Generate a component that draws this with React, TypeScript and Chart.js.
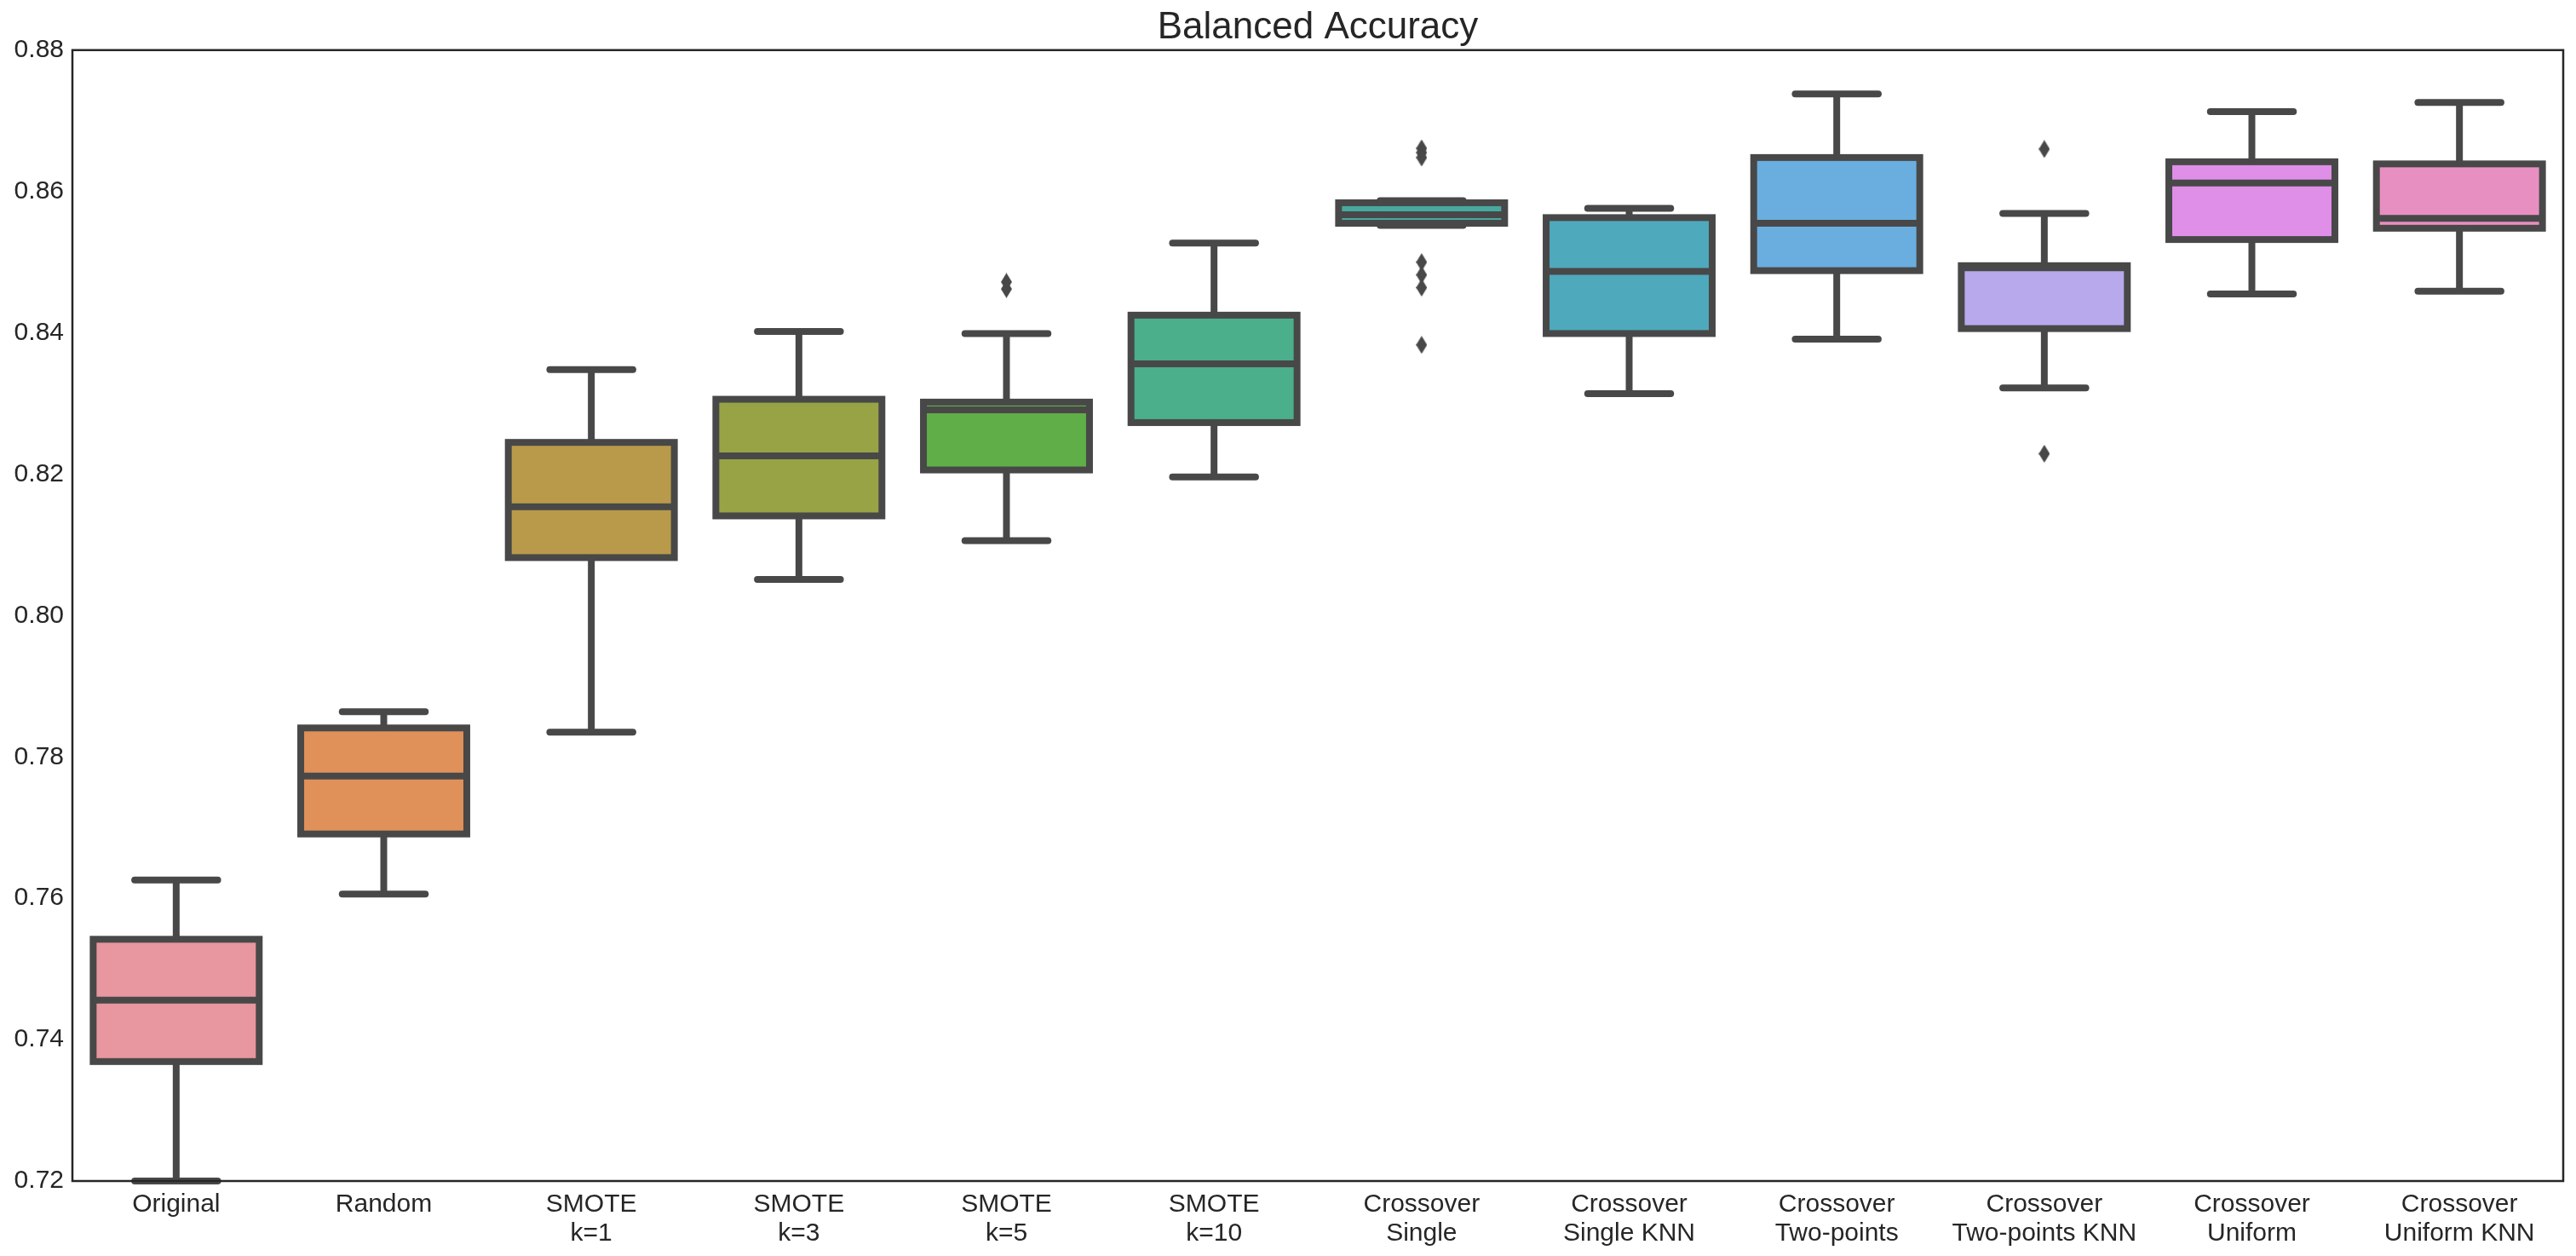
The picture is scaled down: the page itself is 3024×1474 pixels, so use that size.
import React, { useEffect, useRef } from 'react';
import { Chart, registerables } from 'chart.js';

Chart.register(...registerables);

// ---- data ----
const categories: (string | string[])[] = [
  'Original',
  'Random',
  ['SMOTE', 'k=1'],
  ['SMOTE', 'k=3'],
  ['SMOTE', 'k=5'],
  ['SMOTE', 'k=10'],
  ['Crossover', 'Single'],
  ['Crossover', 'Single KNN'],
  ['Crossover', 'Two-points'],
  ['Crossover', 'Two-points KNN'],
  ['Crossover', 'Uniform'],
  ['Crossover', 'Uniform KNN'],
];

const whiskerLow = [0.72, 0.7606, 0.7835, 0.8051, 0.8106, 0.8196, 0.8552, 0.8314, 0.8391, 0.8322, 0.8455, 0.8459];
const q1 = [0.7369, 0.7691, 0.8082, 0.8141, 0.8206, 0.8273, 0.8555, 0.8399, 0.8488, 0.8406, 0.8532, 0.8548];
const median = [0.7456, 0.7773, 0.8154, 0.8226, 0.8291, 0.8356, 0.8567, 0.8487, 0.8555, 0.8492, 0.8612, 0.8562];
const q3 = [0.7542, 0.7841, 0.8245, 0.8306, 0.8302, 0.8425, 0.8584, 0.8563, 0.8648, 0.8495, 0.8642, 0.8639];
const whiskerHigh = [0.7626, 0.7864, 0.8348, 0.8402, 0.8399, 0.8527, 0.8587, 0.8576, 0.8738, 0.8569, 0.8713, 0.8726];
const outliers: number[][] = [
  [],
  [],
  [],
  [],
  [0.8472, 0.8462],
  [],
  [0.8661, 0.8655, 0.8648, 0.85, 0.8482, 0.8464, 0.8383],
  [],
  [],
  [0.866, 0.8229],
  [],
  [],
];

const yTicks = [0.72, 0.74, 0.76, 0.78, 0.8, 0.82, 0.84, 0.86, 0.88];

const boxColors = [
  '#e8969f',
  '#e0915a',
  '#b89a4a',
  '#98a346',
  '#60ae47',
  '#4aaf8a',
  '#48a9a0',
  '#4fa9bc',
  '#6aaee0',
  '#b7a9eb',
  '#df8fe8',
  '#e88fc2',
];

const LINE = '#484848';
const TEXT = '#262626';
const FONT = "'Liberation Sans', Arial, Helvetica, sans-serif";

function makeDiamond(): HTMLCanvasElement {
  const c = document.createElement('canvas');
  const w = 13;
  const h = 21;
  c.width = w;
  c.height = h;
  const g = c.getContext('2d')!;
  g.fillStyle = LINE;
  g.beginPath();
  g.moveTo(w / 2, 0);
  g.lineTo(w, h / 2);
  g.lineTo(w / 2, h);
  g.lineTo(0, h / 2);
  g.closePath();
  g.fill();
  return c;
}

const boxPlugin = {
  id: 'boxDecor',
  afterLayout(chart: any) {
    // centre the title over the plotting area, as matplotlib does
    const tb = chart.titleBlock;
    if (tb) {
      tb.left = chart.chartArea.left;
      tb.right = chart.chartArea.right;
    }
  },
  afterDatasetsDraw(chart: any) {
    const ctx = chart.ctx as CanvasRenderingContext2D;
    const ys = chart.scales.y;
    const meta = chart.getDatasetMeta(0);
    ctx.save();
    ctx.strokeStyle = LINE;
    ctx.lineWidth = 8;
    const seg = (x1: number, y1: number, x2: number, y2: number) => {
      ctx.beginPath();
      ctx.moveTo(x1, y1);
      ctx.lineTo(x2, y2);
      ctx.stroke();
    };
    meta.data.forEach((bar: any, i: number) => {
      const { x, width } = bar.getProps(['x', 'width'], true);
      const half = width / 2;
      const yLo = ys.getPixelForValue(whiskerLow[i]);
      const yQ1 = ys.getPixelForValue(q1[i]);
      const yMed = ys.getPixelForValue(median[i]);
      const yQ3 = ys.getPixelForValue(q3[i]);
      const yHi = ys.getPixelForValue(whiskerHigh[i]);
      ctx.lineJoin = 'miter';
      ctx.lineCap = 'butt';
      ctx.strokeRect(x - half, yQ3, width, yQ1 - yQ3);
      seg(x, yQ3, x, yHi);
      seg(x, yQ1, x, yLo);
      ctx.lineCap = 'round';
      seg(x - half / 2, yHi, x + half / 2, yHi);
      seg(x - half / 2, yLo, x + half / 2, yLo);
      ctx.lineCap = 'butt';
      seg(x - half, yMed, x + half, yMed);
    });
    ctx.restore();
  },
  afterDraw(chart: any) {
    const { left, right, top, bottom } = chart.chartArea;
    const ctx = chart.ctx as CanvasRenderingContext2D;
    ctx.save();
    ctx.strokeStyle = TEXT;
    ctx.lineWidth = 2.5;
    ctx.strokeRect(left, top, right - left, bottom - top);
    ctx.restore();
  },
};

export default function App() {
  const ref = useRef<HTMLCanvasElement | null>(null);

  useEffect(() => {
    if (!ref.current) return;
    const diamond = makeDiamond();
    const outlierPoints: { x: any; y: number }[] = [];
    outliers.forEach((list, i) => list.forEach((v) => outlierPoints.push({ x: categories[i], y: v })));

    const chart = new Chart(ref.current, {
      type: 'bar',
      data: {
        labels: categories as any,
        datasets: [
          {
            type: 'bar',
            data: q1.map((v, i) => [v, q3[i]]) as any,
            backgroundColor: boxColors,
            borderWidth: 0,
            barPercentage: 0.8,
            categoryPercentage: 1.0,
            grouped: false,
          } as any,
          {
            type: 'line',
            data: outlierPoints as any,
            showLine: false,
            pointStyle: diamond as any,
            pointRadius: 8,
            backgroundColor: LINE,
            borderColor: LINE,
          } as any,
        ],
      },
      plugins: [boxPlugin],
      options: {
        animation: false,
        responsive: true,
        maintainAspectRatio: false,
        layout: { padding: { top: 0, right: 15, bottom: 0, left: 0 } },
        plugins: {
          legend: { display: false },
          tooltip: { enabled: false },
          title: {
            display: true,
            text: 'Balanced Accuracy',
            color: TEXT,
            font: { family: FONT, size: 44, weight: 'normal' as any, lineHeight: 1.2 },
            padding: { top: 6, bottom: 0 },
          },
        },
        scales: {
          x: {
            type: 'category',
            offset: true,
            grid: { display: false, drawTicks: false },
            border: { display: false },
            ticks: {
              color: TEXT,
              font: { family: FONT, size: 30, lineHeight: 1.15 },
              padding: 10,
              maxRotation: 0,
              autoSkip: false,
            },
            afterFit: (s: any) => {
              s.height = 88;
            },
          },
          y: {
            type: 'linear',
            min: 0.72,
            max: 0.88,
            grid: { display: false, drawTicks: false },
            border: { display: false },
            afterBuildTicks: (s: any) => {
              s.ticks = yTicks.map((v) => ({ value: v }));
            },
            ticks: {
              color: TEXT,
              font: { family: FONT, size: 30 },
              padding: 10,
              callback: (v: any) => Number(v).toFixed(2),
            },
            afterFit: (s: any) => {
              s.width = 85;
            },
          },
        },
      },
    });
    return () => chart.destroy();
  }, []);

  return (
    <div style={{ position: 'fixed', left: 0, top: 0, width: '100vw', height: '100vh', background: '#fff' }}>
      <canvas ref={ref} />
    </div>
  );
}
